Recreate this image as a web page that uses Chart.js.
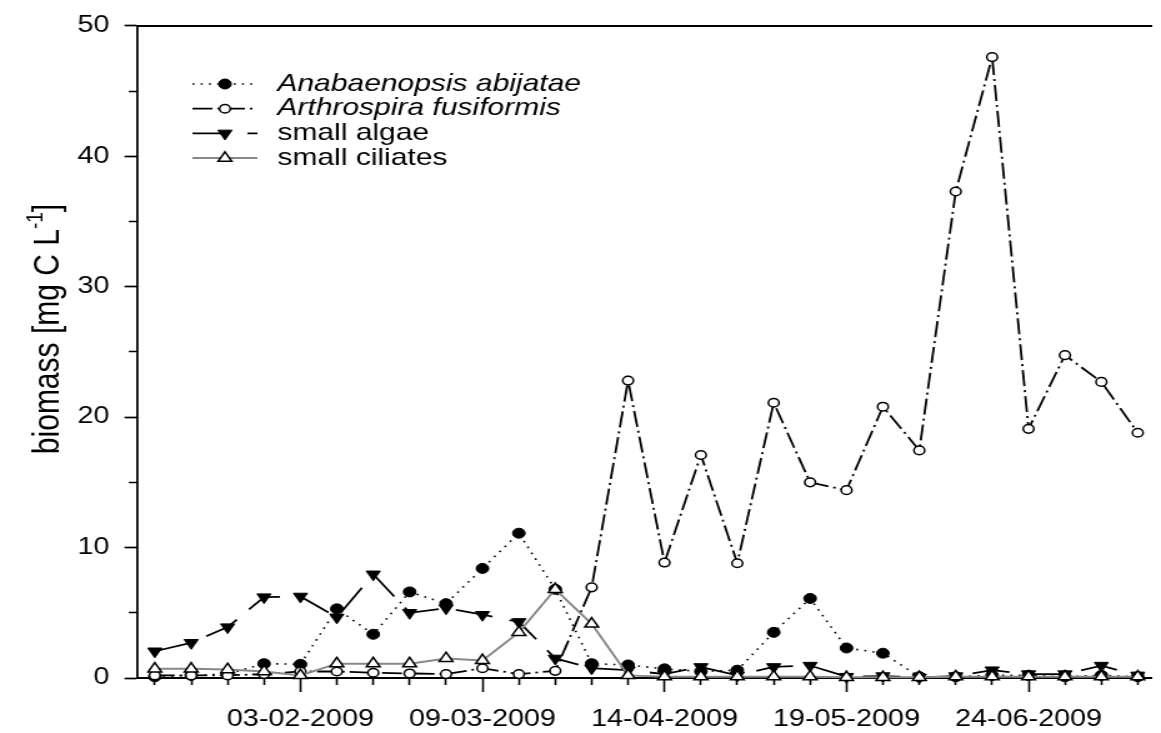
<!DOCTYPE html>
<html>
<head>
<meta charset="utf-8">
<title>Biomass</title>
<script src="https://cdn.jsdelivr.net/npm/chart.js@4.4.0/dist/chart.umd.min.js"></script>
<style>
  html, body { margin: 0; padding: 0; background: #fff; overflow: hidden; }
  /* chart is laid out narrow and widened on screen */
  #biomassChart { display: block; transform: scaleX(1.2497); transform-origin: 0 0; }
</style>
</head>
<body>
<canvas id="biomassChart" width="929" height="733"></canvas>
<script>
// sampling occasions and the dates printed under every fifth one
const sampleNo = [1, 2, 3, 4, 5, 6, 7, 8, 9, 10, 11, 12, 13, 14,
                  15, 16, 17, 18, 19, 20, 21, 22, 23, 24, 25, 26, 27, 28];
const dateTicks = [5, 10, 15, 20, 25];
const dateLabels = ['03-02-2009', '09-03-2009', '14-04-2009', '19-05-2009', '24-06-2009'];

// biomass in mg C per litre
const anabaenopsis = [0.1, 0.2, 0.3, 1.1, 1.05, 5.3, 3.35, 6.6, 5.7, 8.4, 11.1, 6.8, 1.1, 1.0,
                      0.7, 0.5, 0.6, 3.5, 6.1, 2.3, 1.9, 0.1, 0.1, 0.2, 0.2, 0.1, 0.2, 0.1];
const arthrospira = [0.2, 0.2, 0.2, 0.3, 0.5, 0.5, 0.4, 0.35, 0.3, 0.75, 0.3, 0.55, 6.95, 22.8,
                     8.85, 17.1, 8.8, 21.1, 15.0, 14.4, 20.8, 17.45, 37.3, 47.6, 19.1, 24.75, 22.7, 18.8];
const smallAlgae = [2.05, 2.7, 3.9, 6.2, 6.25, 4.65, 7.95, 5.0, 5.35, 4.85, 4.3, 1.5, 0.75, 0.6,
                    0.3, 0.85, 0.2, 0.85, 0.95, 0.1, 0.15, 0.05, 0.15, 0.6, 0.3, 0.3, 0.95, 0.2];
const smallCiliates = [0.7, 0.7, 0.65, 0.5, 0.2, 1.1, 1.1, 1.1, 1.5, 1.35, 3.5, 6.8, 4.15, 0.2,
                       0.1, 0.1, 0.1, 0.1, 0.1, 0.05, 0.05, 0.05, 0.1, 0.1, 0.1, 0.1, 0.1, 0.1];

const seriesNames = ['Anabaenopsis abijatae', 'Arthrospira fusiformis', 'small algae', 'small ciliates'];
const italicNames = [true, true, false, false];

const FONT = '"Liberation Sans", Arial, Helvetica, sans-serif';
Chart.defaults.font.family = FONT;
Chart.defaults.color = '#000';

function pairs(values) {
    return values.map((v, i) => ({ x: sampleNo[i], y: v }));
}

// legend drawn by hand: line sample with the marker in the middle
const sampleLegend = {
    id: 'sampleLegend',
    afterDatasetsDraw(chart) {
        const ctx = chart.ctx;
        const x0 = 154, x1 = 206, xText = 222;
        chart.data.datasets.forEach((ds, i) => {
            const y = 84 + i * 24.7;
            ctx.save();
            ctx.strokeStyle = ds.borderColor;
            ctx.lineWidth = ds.borderWidth;
            ctx.setLineDash(ds.borderDash || []);
            ctx.beginPath();
            ctx.moveTo(x0, y);
            ctx.lineTo(x1, y);
            ctx.stroke();
            ctx.setLineDash([]);
            ctx.fillStyle = ds.pointBackgroundColor;
            ctx.strokeStyle = ds.pointBorderColor;
            ctx.lineWidth = ds.pointBorderWidth;
            Chart.helpers.drawPoint(ctx, {
                pointStyle: ds.pointStyle,
                radius: ds.pointRadius,
                rotation: ds.pointRotation || 0,
                borderWidth: ds.pointBorderWidth
            }, (x0 + x1) / 2, y);
            ctx.fillStyle = '#000';
            ctx.font = (italicNames[i] ? 'italic ' : '') + '24px ' + FONT;
            ctx.textBaseline = 'middle';
            ctx.textAlign = 'left';
            ctx.fillText(ds.label, xText, y);
            ctx.restore();
        });
    }
};

// y axis title with a raised "-1"
const yTitle = {
    id: 'yTitle',
    afterDraw(chart) {
        const ctx = chart.ctx;
        const head = 'biomass [mg C L', sup = '-1', tail = ']';
        ctx.save();
        ctx.translate(38.4, 329);
        ctx.rotate(-Math.PI / 2);
        ctx.fillStyle = '#000';
        ctx.textBaseline = 'middle';
        ctx.textAlign = 'left';
        ctx.font = '30px ' + FONT;
        const w1 = ctx.measureText(head).width;
        const w3 = ctx.measureText(tail).width;
        ctx.font = '19px ' + FONT;
        const w2 = ctx.measureText(sup).width;
        let x = -(w1 + w2 + w3) / 2;
        ctx.font = '30px ' + FONT;
        ctx.fillText(head, x, 0);
        x += w1;
        ctx.font = '19px ' + FONT;
        ctx.fillText(sup, x, -10);
        x += w2;
        ctx.font = '30px ' + FONT;
        ctx.fillText(tail, x, 0);
        ctx.restore();
    }
};

const ctx = document.getElementById('biomassChart').getContext('2d');
const biomassChart = new Chart(ctx, {
    type: 'line',
    data: {
        datasets: [{
            label: seriesNames[0],
            data: pairs(anabaenopsis),
            borderColor: '#000',
            borderWidth: 1.6,
            borderDash: [1.6, 5],
            pointStyle: 'circle',
            pointRadius: 5,
            pointBackgroundColor: '#000',
            pointBorderColor: '#000',
            pointBorderWidth: 1,
            order: 4
        }, {
            label: seriesNames[1],
            data: pairs(arthrospira),
            borderColor: '#000',
            borderWidth: 1.8,
            borderDash: [16, 4, 2, 4],
            pointStyle: 'circle',
            pointRadius: 4.3,
            pointBackgroundColor: '#fff',
            pointBorderColor: '#000',
            pointBorderWidth: 1.5,
            order: 3
        }, {
            label: seriesNames[2],
            data: pairs(smallAlgae),
            borderColor: '#000',
            borderWidth: 1.8,
            borderDash: [30, 14],
            pointStyle: 'triangle',
            pointRotation: 180,
            pointRadius: 6.5,
            pointBackgroundColor: '#000',
            pointBorderColor: '#000',
            pointBorderWidth: 1,
            order: 2
        }, {
            label: seriesNames[3],
            data: pairs(smallCiliates),
            borderColor: '#888',
            borderWidth: 2,
            pointStyle: 'triangle',
            pointRadius: 6.3,
            pointBackgroundColor: '#fff',
            pointBorderColor: '#000',
            pointBorderWidth: 1.5,
            order: 1
        }]
    },
    options: {
        responsive: false,
        animation: false,
        clip: false,
        elements: { line: { tension: 0 } },
        layout: { padding: { top: 20, right: 0, bottom: 0, left: 0 } },
        plugins: {
            legend: { display: false },
            tooltip: { enabled: false }
        },
        scales: {
            x: {
                type: 'linear',
                position: 'bottom',
                min: 0.51,
                max: 28.37,
                afterBuildTicks(scale) {
                    scale.ticks = sampleNo.map(v => ({ value: v }));
                },
                afterFit(scale) { scale.height = 55; },
                ticks: {
                    autoSkip: false,
                    maxRotation: 0,
                    minRotation: 0,
                    padding: 14,
                    font: { size: 23 },
                    callback: (v) => {
                        const k = dateTicks.indexOf(v);
                        return k < 0 ? '' : dateLabels[k];
                    }
                },
                grid: {
                    drawOnChartArea: false,
                    tickLength: 14,
                    tickColor: '#000',
                    tickWidth: 1.6,
                    tickBorderDash: (c) => (c.tick && dateTicks.includes(c.tick.value)) ? [] : [6, 40]
                },
                border: { color: '#000', width: 2 }
            },
            xTop: {
                type: 'linear',
                position: 'top',
                min: 0.51,
                max: 28.37,
                afterFit(scale) { scale.height = 0; },
                ticks: { display: false },
                grid: { display: false, drawTicks: false },
                border: { display: true, color: '#000', width: 2 }
            },
            y: {
                min: 0,
                max: 50,
                afterFit(scale) { scale.width = 109.6; },
                ticks: {
                    stepSize: 5,
                    padding: 12,
                    font: { size: 23 },
                    callback: (v) => (v % 10 === 0 ? v : '')
                },
                grid: {
                    drawOnChartArea: false,
                    tickLength: 10,
                    tickColor: '#000',
                    tickWidth: 1.7,
                    tickBorderDash: (c) => (c.tick && c.tick.value % 10 === 0) ? [] : [0, 3.5, 20]
                },
                border: { color: '#000', width: 1.8 }
            }
        }
    },
    plugins: [sampleLegend, yTitle]
});
</script>
</body>
</html>
